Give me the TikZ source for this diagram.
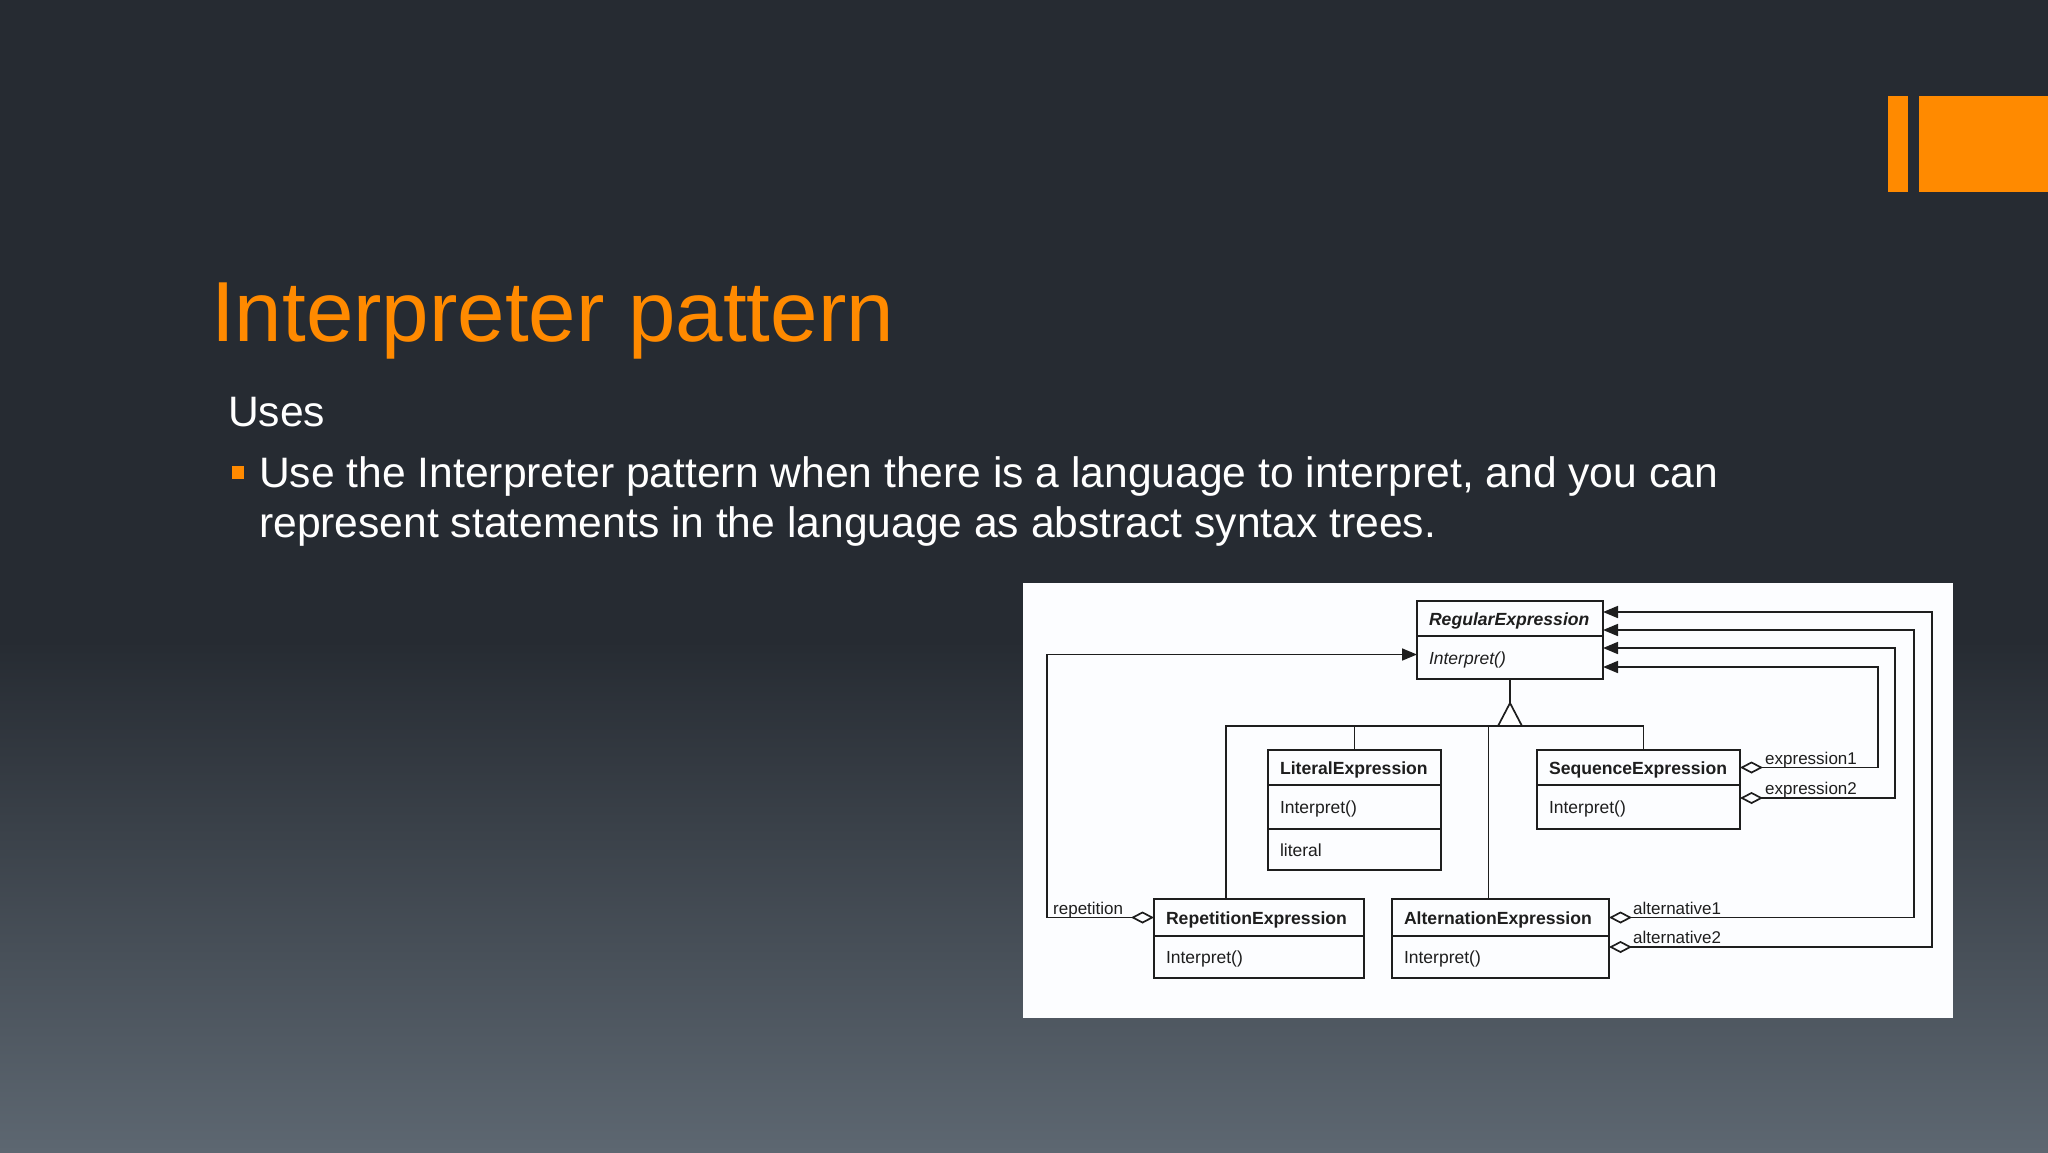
\documentclass[tikz,border=0pt]{standalone}
\usepackage{fontspec}
\setmainfont{Liberation Sans}
\usetikzlibrary{positioning, arrows.meta}

\definecolor{slidetop}{HTML}{262B32}
\definecolor{slidebottom}{HTML}{5D6771}
\definecolor{slideorange}{HTML}{FF8A00}
\definecolor{panelwhite}{HTML}{FCFDFF}
\definecolor{umlink}{HTML}{1E1E1E}

\begin{document}
\begin{tikzpicture}[
    x=1pt, y=-1pt,
    compartment/.style={draw=umlink, line width=1.7pt, outer sep=0pt, inner xsep=12pt, inner ysep=0pt,
        align=left, text=umlink, text height=13pt, text depth=0pt, font=\fontsize{17.5}{20}\selectfont},
    classname/.style={compartment, font=\fontsize{17.6}{20}\selectfont\bfseries},
    line/.style={draw=umlink, line width=1.7pt},
    aggr/.style={line, {Diamond[open, length=23pt, width=12pt]}-{Triangle[length=15pt, width=12pt]}},
    rolelabel/.style={inner sep=0pt, anchor=base west, text=umlink, font=\fontsize{17}{20}\selectfont},
    bodytext/.style={inner sep=0pt, anchor=base west, text=white, font=\fontsize{42.6}{50}\selectfont}
]
    \useasboundingbox (0,0) rectangle (2048,1152);

    % slide background
    \fill[slidetop] (0,0) rectangle (2048,1152);
    \shade[top color=slidetop, bottom color=slidebottom] (0,640) rectangle (2048,1152);
    \fill[slideorange] (1888,96) rectangle (1908,192);
    \fill[slideorange] (1919,96) rectangle (2048,192);

    \node[inner sep=0pt, anchor=base west, text=slideorange, font=\fontsize{85.3}{100}\selectfont] (title) at (211,341) {Interpreter pattern};
    \node[bodytext] (uses) at (228,426) {Uses};
    \node[fill=slideorange, minimum size=12.5pt, inner sep=0pt] (bullet) at (238,472.5) {};
    \node[bodytext] (bodyone) at (259,487) {Use the Interpreter pattern when there is a language to interpret, and you can};
    \node[bodytext] (bodytwo) at (259,537) {represent statements in the language as abstract syntax trees.};

    % class diagram
    \fill[panelwhite] (1023,583) rectangle (1953,1018);

    \node[classname, text width=162pt, minimum height=35pt, anchor=north west] (regname) at (1417,601) {\itshape RegularExpression};
    \node[compartment, text width=162pt, minimum height=43pt, below=0pt of regname] (regop) {\itshape Interpret()};

    \node[classname, text width=149pt, minimum height=35pt, anchor=north west] (litname) at (1268,750) {LiteralExpression};
    \node[compartment, text width=149pt, minimum height=44pt, below=0pt of litname] (litop) {Interpret()};
    \node[compartment, text width=149pt, minimum height=41pt, below=0pt of litop] (litattr) {literal};

    \node[classname, text width=179pt, minimum height=35pt, anchor=north west] (seqname) at (1537,750) {SequenceExpression};
    \node[compartment, text width=179pt, minimum height=44pt, below=0pt of seqname] (seqop) {Interpret()};

    \node[classname, text width=186pt, minimum height=37pt, anchor=north west] (repname) at (1154,899) {RepetitionExpression};
    \node[compartment, text width=186pt, minimum height=42pt, below=0pt of repname] (repop) {Interpret()};

    \node[classname, text width=193pt, minimum height=37pt, anchor=north west] (altname) at (1392,899) {AlternationExpression};
    \node[compartment, text width=193pt, minimum height=42pt, below=0pt of altname] (altop) {Interpret()};

    % generalization
    \coordinate (bar) at (1510,726);
    \draw[line] (regop.south) -- ++(0,24);
    \draw[line, fill=white] (regop.south) ++(0,24) -- ++(-12,23) -- ++(24,0) -- cycle;
    \draw[line] ([xshift=-33pt]repname.north) |- (bar) -| ([xshift=5pt]seqname.north);
    \draw[line] (litname.north) -- (litname.north |- bar);
    \draw[line] ([xshift=-12pt]altname.north) |- (bar);

    % aggregations
    \draw[aggr] (repname.west) -- ++(-107,0) |- ([yshift=3pt]regop.west);
    \draw[aggr] (seqname.east) -- ++(138,0) |- ([yshift=-66pt]regname.north east);
    \draw[aggr] ([yshift=9pt]seqop.east) -- ++(155,0) |- ([yshift=-47pt]regname.north east);
    \draw[aggr] (altname.east) -- ++(305,0) |- ([yshift=-29pt]regname.north east);
    \draw[aggr] ([yshift=10pt]altop.east) -- ++(323,0) |- ([yshift=-11pt]regname.north east);

    \node[rolelabel] (reprole) at (1053,914) {repetition};
    \node[rolelabel] (exprone) at (1765,764) {expression1};
    \node[rolelabel] (exprtwo) at (1765,794) {expression2};
    \node[rolelabel] (altone) at (1633,914) {alternative1};
    \node[rolelabel] (alttwo) at (1633,943) {alternative2};
\end{tikzpicture}
\end{document}
